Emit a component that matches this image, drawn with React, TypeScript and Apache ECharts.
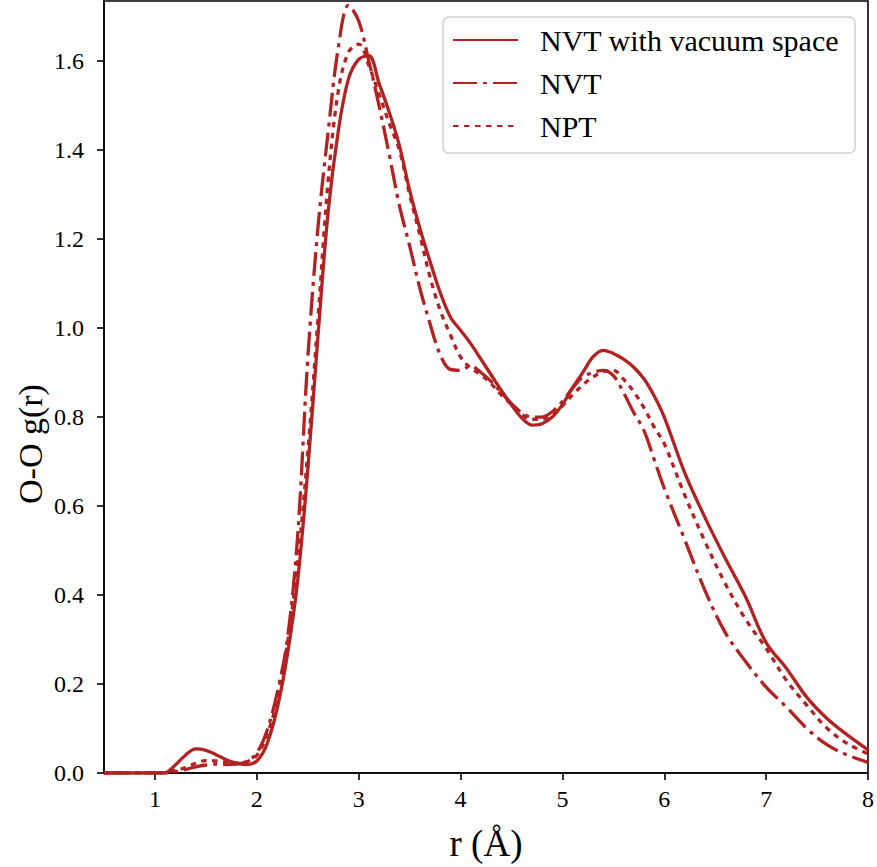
import React, { useEffect, useRef } from "react";
import * as echarts from "echarts";

const r = [0.5, 0.8, 1.0, 1.1, 1.2, 1.3, 1.4, 1.5, 1.6, 1.7, 1.8, 1.9, 2.0, 2.1, 2.2, 2.3, 2.4, 2.5, 2.6, 2.7, 2.8, 2.9, 3.0, 3.1, 3.2, 3.3, 3.4, 3.5, 3.6, 3.7, 3.8, 3.9, 4.0, 4.1, 4.2, 4.3, 4.4, 4.5, 4.6, 4.7, 4.8, 4.9, 5.0, 5.1, 5.2, 5.3, 5.4, 5.5, 5.6, 5.7, 5.8, 5.9, 6.0, 6.2, 6.4, 6.6, 6.8, 7.0, 7.2, 7.4, 7.6, 7.8, 8.0];

const nvtVacuum = [0, 0, 0, 0.001, 0.018, 0.040, 0.054, 0.051, 0.041, 0.030, 0.022, 0.019, 0.027, 0.065, 0.145, 0.265, 0.43, 0.68, 0.98, 1.26, 1.443, 1.56, 1.604, 1.612, 1.55, 1.485, 1.41, 1.31, 1.225, 1.15, 1.08, 1.025, 0.995, 0.965, 0.93, 0.895, 0.86, 0.827, 0.798, 0.782, 0.785, 0.8, 0.828, 0.866, 0.9, 0.935, 0.95, 0.943, 0.93, 0.912, 0.886, 0.848, 0.80, 0.675, 0.574, 0.482, 0.395, 0.293, 0.235, 0.17, 0.122, 0.085, 0.052];

const nvt = [0, 0, 0, 0, 0.003, 0.008, 0.014, 0.018, 0.02, 0.019, 0.02, 0.026, 0.045, 0.095, 0.18, 0.30, 0.53, 0.93, 1.225, 1.44, 1.63, 1.725, 1.69, 1.60, 1.50, 1.39, 1.275, 1.185, 1.09, 1.01, 0.94, 0.907, 0.905, 0.915, 0.9, 0.88, 0.855, 0.83, 0.81, 0.8, 0.8, 0.812, 0.835, 0.865, 0.89, 0.9, 0.905, 0.893, 0.855, 0.81, 0.77, 0.705, 0.64, 0.525, 0.41, 0.315, 0.25, 0.193, 0.148, 0.1, 0.063, 0.04, 0.024];

const npt = [0, 0, 0, 0.001, 0.006, 0.012, 0.022, 0.028, 0.027, 0.024, 0.022, 0.025, 0.04, 0.085, 0.165, 0.29, 0.47, 0.72, 1.02, 1.33, 1.533, 1.62, 1.638, 1.59, 1.526, 1.46, 1.40, 1.30, 1.21, 1.115, 1.04, 0.985, 0.935, 0.91, 0.895, 0.875, 0.85, 0.828, 0.806, 0.795, 0.795, 0.805, 0.825, 0.85, 0.872, 0.89, 0.902, 0.905, 0.885, 0.857, 0.821, 0.778, 0.74, 0.625, 0.52, 0.425, 0.345, 0.28, 0.208, 0.152, 0.1, 0.066, 0.043];

const xTicks = [1, 2, 3, 4, 5, 6, 7, 8];
const yTicks = [0, 0.2, 0.4, 0.6, 0.8, 1.0, 1.2, 1.4, 1.6];

const seriesNames = ["NVT with vacuum space", "NVT", "NPT"];

const COLOR = "#B22222";
const FONT = "Liberation Serif";

export default function App() {
  const ref = useRef<HTMLDivElement>(null);
  useEffect(() => {
    document.body.style.margin = "0";
    const chart = echarts.init(ref.current!, null, { renderer: "svg" });
    const pair = (ys: number[]) => r.map((x, i) => [x, ys[i]]);
    const lineSeries = (name: string, ys: number[], type: any) => ({
      name,
      type: "line",
      data: pair(ys),
      symbol: "none",
      smooth: 0.35,
      clip: true,
      lineStyle: { color: COLOR, width: 3.3, type, cap: "butt" },
      itemStyle: { color: COLOR },
    });
    chart.setOption({
      animation: false,
      backgroundColor: "#ffffff",
      grid: {
        left: 104,
        right: 5,
        top: 1,
        bottom: 94,
        show: true,
        borderColor: "#000",
        borderWidth: 1.6,
        backgroundColor: "transparent",
      },
      legend: {
        data: seriesNames.map((n) => ({ name: n })),
        orient: "vertical",
        left: 443,
        top: 17,
        padding: [8, 16, 12, 9],
        itemWidth: 65,
        itemHeight: 14,
        itemGap: 13,
        itemStyle: { opacity: 0 },
        backgroundColor: "rgba(255,255,255,0.8)",
        borderColor: "#d0d0d0",
        borderWidth: 1.5,
        borderRadius: 6,
        textStyle: {
          fontFamily: FONT,
          fontSize: 30,
          color: "#000",
          padding: [0, 0, 0, 17],
        },
      },
      xAxis: {
        type: "value",
        min: 0.5,
        max: 8,
        name: "r (Å)",
        nameLocation: "middle",
        nameGap: 52,
        nameTextStyle: { fontFamily: FONT, fontSize: 37, color: "#000" },
        axisLine: { show: true, lineStyle: { color: "#000", width: 1.6 } },
        axisTick: {
          show: true,
          inside: false,
          length: 7,
          customValues: xTicks,
          lineStyle: { color: "#000", width: 1.6 },
        },
        axisLabel: {
          customValues: xTicks,
          margin: 14,
          fontFamily: FONT,
          fontSize: 24,
          color: "#000",
          formatter: (v: number) => String(v),
        },
        splitLine: { show: false },
      },
      yAxis: {
        type: "value",
        min: 0,
        max: 1.735,
        axisLine: { show: true, lineStyle: { color: "#000", width: 1.6 } },
        axisTick: {
          show: true,
          inside: false,
          length: 7,
          customValues: yTicks,
          lineStyle: { color: "#000", width: 1.6 },
        },
        axisLabel: {
          customValues: yTicks,
          margin: 20,
          fontFamily: FONT,
          fontSize: 24,
          color: "#000",
          formatter: (v: number) => v.toFixed(1),
        },
        splitLine: { show: false },
      },
      graphic: [
        {
          type: "text",
          x: 30,
          y: 444,
          rotation: Math.PI / 2,
          style: {
            text: "O-O g(r)",
            fontFamily: FONT,
            fontSize: 34,
            fill: "#000",
            align: "center",
            verticalAlign: "middle",
          },
        },
      ],
      series: [
        lineSeries(seriesNames[0], nvtVacuum, "solid"),
        lineSeries(seriesNames[1], nvt, [24, 6, 4, 6]),
        lineSeries(seriesNames[2], npt, [5.5, 5.5]),
      ],
    });
    return () => chart.dispose();
  }, []);
  return (
    <div
      ref={ref}
      style={{ position: "absolute", left: 0, top: 0, width: 877, height: 867 }}
    />
  );
}
